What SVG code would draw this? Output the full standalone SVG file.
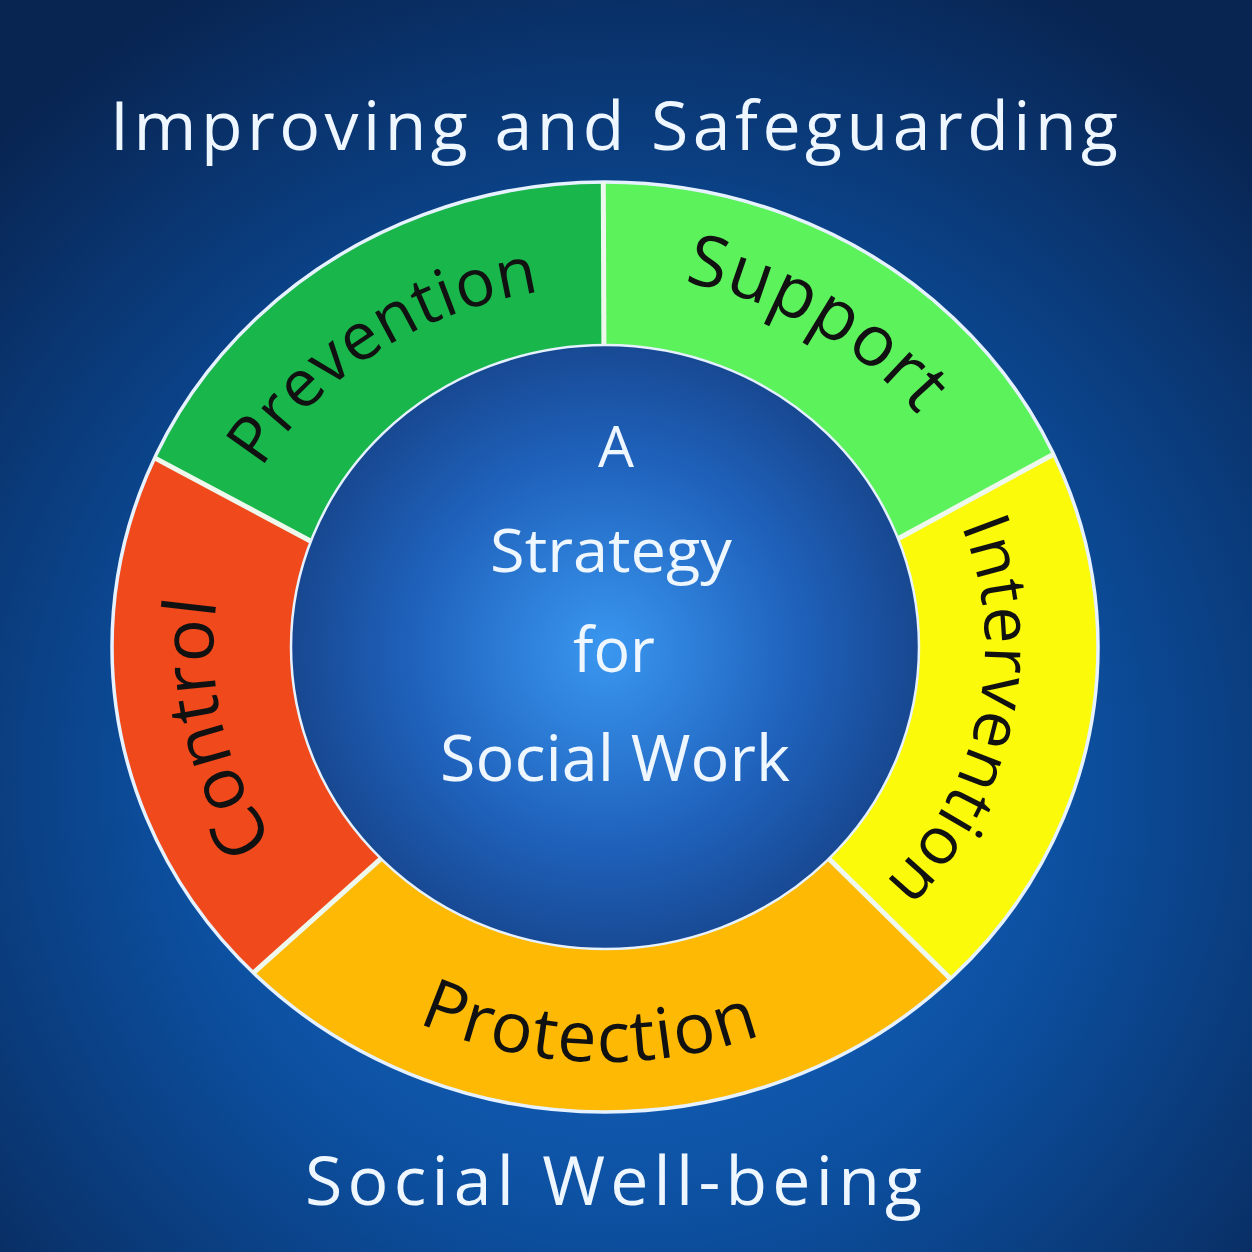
<svg xmlns="http://www.w3.org/2000/svg" width="1252" height="1252" viewBox="0 0 1252 1252">
<defs>
<radialGradient id="bg" gradientUnits="userSpaceOnUse" cx="626" cy="780" r="900">
<stop offset="0" stop-color="#1a6fd2"/>
<stop offset="0.5" stop-color="#0c4f9f"/>
<stop offset="1" stop-color="#082451"/>
</radialGradient>
<radialGradient id="core" gradientUnits="userSpaceOnUse" cx="605" cy="650" r="320">
<stop offset="0" stop-color="#3a97f0"/>
<stop offset="0.6" stop-color="#1f62bc"/>
<stop offset="1" stop-color="#17468e"/>
</radialGradient>
<path id="pPrev" d="M 261.5 468.6 A 395 360 0 0 1 673.6 292.5"/>
<path id="pSupp" d="M 684.1 282.3 A 400 372 0 0 1 980.9 519.8"/>
<path id="pInt" d="M 961.2 525.7 A 380 348 0 0 1 735 974"/>
<path id="pCtrl" d="M 274.4 840.4 A 392 360 0 0 1 305.7 415.6"/>
<path id="pProt" d="M 417.7 1022.5 A 440 415 0 0 0 942 913.8"/>
</defs>
<style>
.seg{stroke:none}
.lbl{font-family:"Open Sans","Liberation Sans",sans-serif;fill:#111;}
.wt{font-family:"Open Sans","Liberation Sans",sans-serif;fill:#eef6ff;text-anchor:middle}
.hd{font-family:"Open Sans","Liberation Sans",sans-serif;fill:#eef6ff}
.div{stroke:#eef8ec;stroke-width:5;fill:none}
</style>
<rect width="1252" height="1252" fill="url(#bg)"/>
<text class="hd" x="110" y="150" font-size="68" textLength="1008" lengthAdjust="spacing">Improving and Safeguarding</text>
<text class="hd" x="305" y="1205" font-size="68" textLength="617" lengthAdjust="spacing">Social Well-being</text>

<g id="support">
<path class="seg" fill="#5cf25c" d="M 603.3 182 A 493 465 0 0 1 1053.6 454.2 L 898.1 538.8 A 314 302 0 0 0 603.9 345 Z"/>
<text class="lbl" font-size="71"><textPath href="#pSupp" textLength="274" lengthAdjust="spacing">Support</textPath></text>
</g>
<g id="prevention">
<path class="seg" fill="#19b64b" d="M 154.6 457.9 A 493 465 0 0 1 603.3 182 L 603.9 345 A 314 302 0 0 0 310.9 541.2 Z"/>
<text class="lbl" font-size="66"><textPath href="#pPrev" textLength="340" lengthAdjust="spacing">Prevention</textPath></text>
</g>
<g id="control">
<path class="seg" fill="#f04a1c" d="M 253.4 972.9 A 493 465 0 0 1 154.6 457.9 L 310.9 541.2 A 314 302 0 0 0 381 858.7 Z"/>
<text class="lbl" font-size="72"><textPath href="#pCtrl" textLength="252" lengthAdjust="spacing">Control</textPath></text>
</g>
<g id="protection">
<path class="seg" fill="#fdb903" d="M 950.5 978.7 A 493 465 0 0 1 253.4 972.9 L 381 858.7 A 314 302 0 0 0 829 858.7 Z"/>
<text class="lbl" font-size="70"><textPath href="#pProt" textLength="352" lengthAdjust="spacing">Protection</textPath></text>
</g>
<g id="intervention">
<path class="seg" fill="#fafa0a" d="M 1053.6 454.2 A 493 465 0 0 1 950.5 978.7 L 829 858.7 A 314 302 0 0 0 898.1 538.8 Z"/>
<text class="lbl" font-size="66"><textPath href="#pInt" textLength="387" lengthAdjust="spacing">Intervention</textPath></text>
</g>

<g id="connectors">
<ellipse cx="605" cy="647" rx="493" ry="465" fill="none" stroke="#e6f2ff" stroke-width="3.5"/>
<line class="div" x1="603.3" y1="182" x2="603.9" y2="345"/>
<line class="div" x1="1053.6" y1="454.2" x2="898.1" y2="538.8"/>
<line class="div" x1="154.6" y1="457.9" x2="310.9" y2="541.2"/>
<line class="div" x1="253.4" y1="972.9" x2="381" y2="858.7"/>
<line class="div" x1="950.5" y1="978.7" x2="829" y2="858.7"/>
</g>

<g id="centre">
<ellipse cx="605" cy="647" rx="314" ry="302" fill="url(#core)" stroke="#e6f2ff" stroke-width="2.5"/>
<text class="wt" x="616" y="467" font-size="57">A</text>
<text class="wt" x="611" y="572" font-size="60" textLength="242" lengthAdjust="spacingAndGlyphs">Strategy</text>
<text class="wt" x="614" y="672" font-size="62" textLength="82" lengthAdjust="spacingAndGlyphs">for</text>
<text class="wt" x="615" y="781" font-size="64" textLength="350" lengthAdjust="spacingAndGlyphs">Social Work</text>
</g>
</svg>
